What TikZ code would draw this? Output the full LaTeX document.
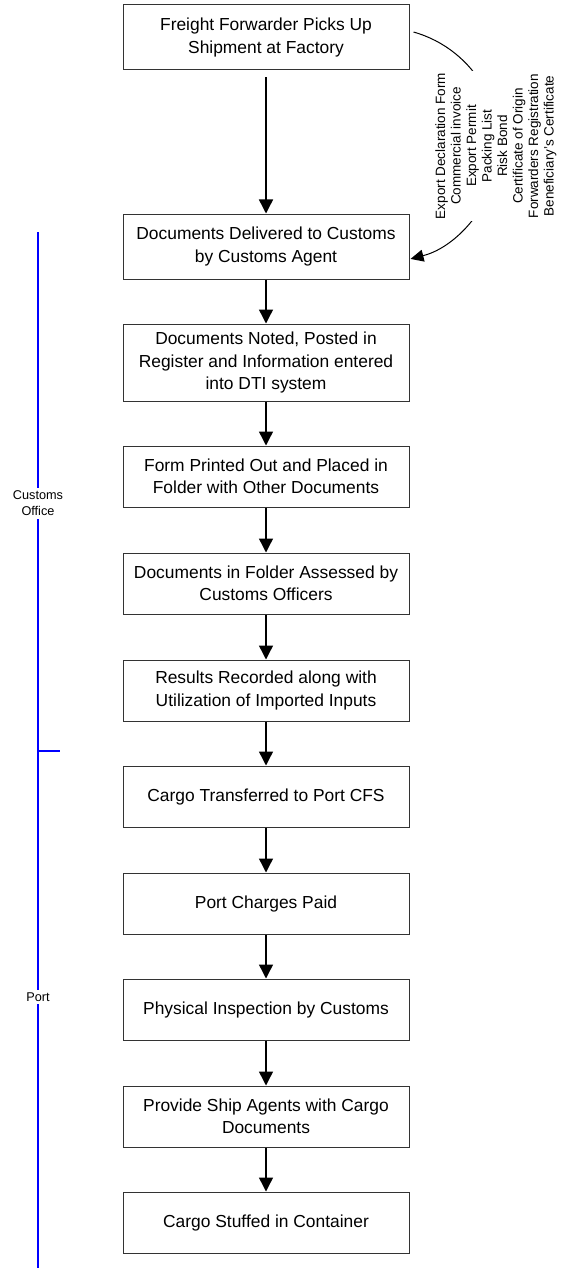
\documentclass[tikz,border=0pt]{standalone}
\usepackage{fontspec}
\setmainfont{Liberation Sans}
\usetikzlibrary{arrows.meta,calc}
\definecolor{laneblue}{RGB}{0,0,255}
\begin{document}
\begin{tikzpicture}[x=1pt,y=1pt,
  stepbox/.style={draw=black!80, line width=1pt, minimum width=286pt, inner sep=2pt, align=center, font=\fontsize{17.4}{22.5}\selectfont},
  flow/.style={line width=1.4pt, -{Triangle[length=14pt,width=14pt]}},
  docflow/.style={line width=1pt, -{Triangle[length=13pt,width=12pt]}},
  lane/.style={draw=laneblue, line width=2pt},
  lanelabel/.style={fill=white, align=center, inner sep=2.5pt, font=\fontsize{12.7}{16}\selectfont},
  doclist/.style={rotate=90, fill=white, align=center, inner sep=2pt, font=\fontsize{13.5}{15.5}\selectfont}]
\useasboundingbox (0,0) rectangle (571,-1268);

% process boxes
\node[stepbox, minimum height=65pt] (b1) at (266,-37.5) {Freight Forwarder Picks Up\\Shipment at Factory};
\node[stepbox, minimum height=65pt] (b2) at (266,-246.5) {Documents Delivered to Customs\\by Customs Agent};
\node[stepbox, minimum height=77pt] (b3) at (266,-362.5) {Documents Noted, Posted in\\Register and Information entered\\into DTI system};
\node[stepbox, minimum height=61pt] (b4) at (266,-476.5) {Form Printed Out and Placed in\\Folder with Other Documents};
\node[stepbox, minimum height=61pt] (b5) at (266,-583.5) {Documents in Folder Assessed by\\Customs Officers};
\node[stepbox, minimum height=61pt] (b6) at (266,-690.5) {Results Recorded along with\\Utilization of Imported Inputs};
\node[stepbox, minimum height=61pt] (b7) at (266,-796.5) {Cargo Transferred to Port CFS};
\node[stepbox, minimum height=61pt] (b8) at (266,-903.5) {Port Charges Paid};
\node[stepbox, minimum height=61pt] (b9) at (266,-1009.5) {Physical Inspection by Customs};
\node[stepbox, minimum height=61pt] (b10) at (266,-1116.5) {Provide Ship Agents with Cargo\\Documents};
\node[stepbox, minimum height=61pt] (b11) at (266,-1222.5) {Cargo Stuffed in Container};

% flow arrows
\draw[flow, shorten <=7pt] (b1.south) -- (b2.north);
\draw[flow] (b2.south) -- (b3.north);
\draw[flow] (b3.south) -- (b4.north);
\draw[flow] (b4.south) -- (b5.north);
\draw[flow] (b5.south) -- (b6.north);
\draw[flow] (b6.south) -- (b7.north);
\draw[flow] (b7.south) -- (b8.north);
\draw[flow] (b8.south) -- (b9.north);
\draw[flow] (b9.south) -- (b10.north);
\draw[flow] (b10.south) -- (b11.north);

% documents connector
\coordinate (docstart) at ($(b1.east)+(4,5.5)$);
\draw[docflow] (docstart) arc[start angle=74.2, end angle=-75.7, radius=117.5];
\node[doclist] (docs) at (496,-146) {Export Declaration Form\\Commercial invoice\\Export Permit\\Packing List\\Risk Bond\\Certificate of Origin\\Forwarders Registration\\Beneficiary's Certificate};

% lanes
\coordinate (laneTop) at (38,-232);
\coordinate (laneBot) at (38,-1268);
\coordinate (tickStart) at (38,-751);
\coordinate (tickEnd) at (60,-751);
\draw[lane] (laneTop) -- (laneBot);
\draw[lane] (tickStart) -- (tickEnd);
\node[lanelabel, inner sep=3pt] (customs) at (38,-503.5) {Customs\\Office};
\node[lanelabel] (port) at (38,-997) {Port};
\end{tikzpicture}
\end{document}
